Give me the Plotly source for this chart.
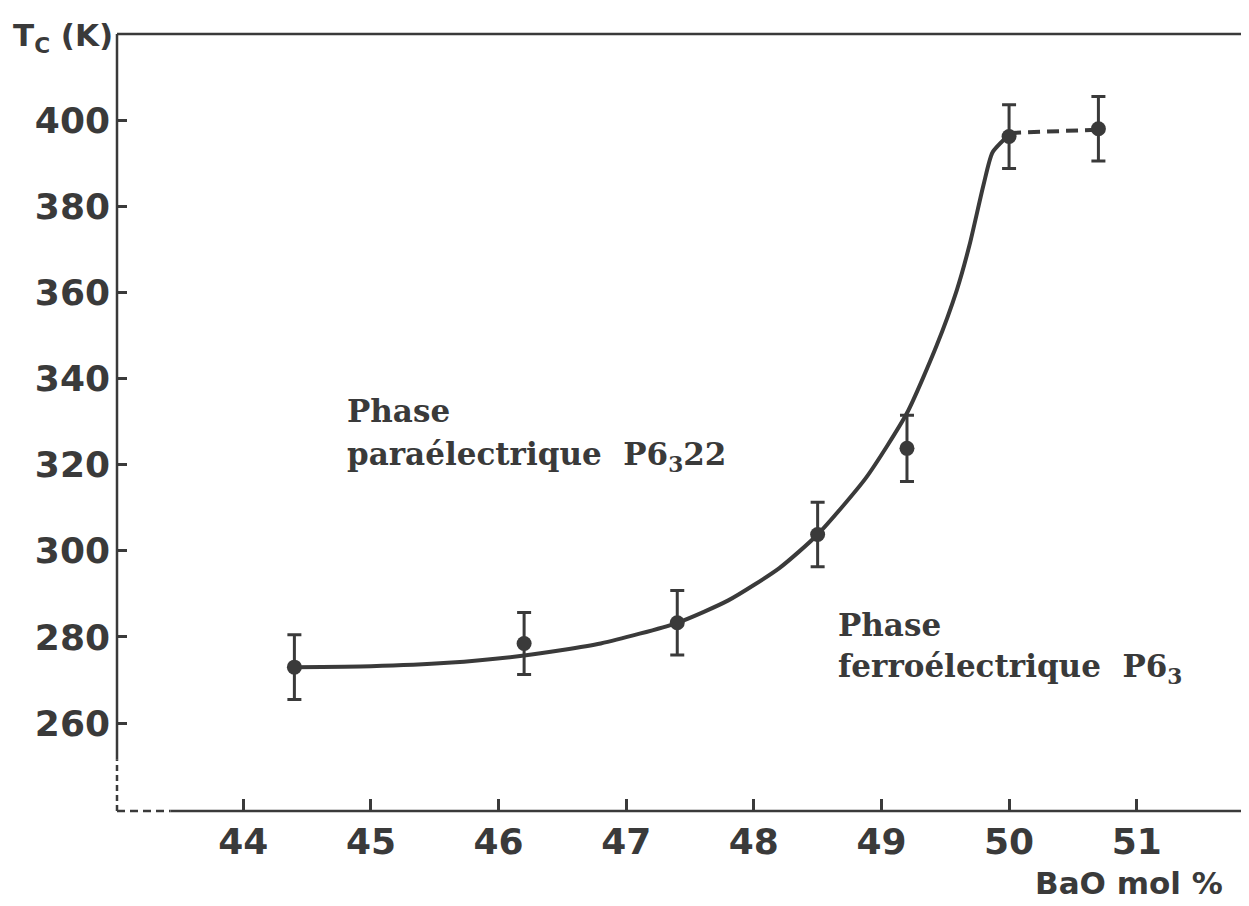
import plotly.graph_objects as go

# Measured points (BaO mol %, Tc in K) with error bars
bao = [44.4, 46.2, 47.4, 48.5, 49.2, 50.0, 50.7]
tc = [273.0, 278.5, 283.3, 303.8, 323.8, 396.2, 398.0]
err = [7.5, 7.2, 7.5, 7.5, 7.7, 7.4, 7.5]

# Hand-drawn guide curve
curve_x = [44.4, 45.0, 45.6, 46.2, 46.8, 47.4, 47.8, 48.2, 48.5, 48.88,
           49.2, 49.43, 49.59, 49.69, 49.80, 49.87, 50.0]
curve_y = [273.0, 273.2, 274.0, 275.7, 278.5, 283.3, 288.5, 296.0, 303.8, 317.0,
           332.0, 347.5, 360.5, 371.0, 385.0, 392.5, 396.6]

# Dashed plateau
dash_x = [50.0, 50.7]
dash_y = [397.0, 397.8]

x_ticks = [44, 45, 46, 47, 48, 49, 50, 51]
y_ticks = [260, 280, 300, 320, 340, 360, 380, 400]

ink = '#3a3a3a'

fig = go.Figure()

fig.add_trace(go.Scatter(x=curve_x, y=curve_y, mode='lines',
                         line=dict(color=ink, width=4, shape='spline', smoothing=0.6),
                         hoverinfo='skip'))
fig.add_trace(go.Scatter(x=dash_x, y=dash_y, mode='lines',
                         line=dict(color=ink, width=4, dash='12px,7px'),
                         hoverinfo='skip'))
fig.add_trace(go.Scatter(x=bao, y=tc, mode='markers',
                         marker=dict(color=ink, size=15),
                         error_y=dict(type='data', array=err, color=ink,
                                      thickness=3, width=7)))

# frame: top line, left axis (solid then dashed near origin), bottom axis
fig.add_shape(type='line', xref='x domain', yref='y domain', x0=0, x1=1, y0=1, y1=1,
              line=dict(color=ink, width=2.5))
fig.add_shape(type='line', xref='x domain', yref='y', x0=0, x1=0, y0=251.5, y1=420,
              line=dict(color=ink, width=2.5))
fig.add_shape(type='line', xref='x domain', yref='y', x0=0, x1=0, y0=239.6, y1=251.5,
              line=dict(color=ink, width=2.5, dash='6px,4px'))
fig.add_shape(type='line', xref='x', yref='y domain', x0=43.43, x1=51.88, y0=0, y1=0,
              line=dict(color=ink, width=2.5))
fig.add_shape(type='line', xref='x', yref='y domain', x0=43.01, x1=43.43, y0=0, y1=0,
              line=dict(color=ink, width=2.5, dash='8px,5px'))

tick_font = dict(family='DejaVu Sans', size=36, color=ink, weight='bold')
phase_font = dict(family='DejaVu Serif', size=31, color=ink, weight='bold')

fig.add_annotation(x=44.80, y=332.5, text='Phase', showarrow=False,
                   xanchor='left', yanchor='middle', font=phase_font)
fig.add_annotation(x=44.80, y=322.0, text='paraélectrique  P6<sub>3</sub>22', showarrow=False,
                   xanchor='left', yanchor='middle', font=phase_font)
fig.add_annotation(x=48.64, y=282.8, text='Phase', showarrow=False,
                   xanchor='left', yanchor='middle', font=phase_font)
fig.add_annotation(x=48.64, y=272.8, text='ferroélectrique  P6<sub>3</sub>', showarrow=False,
                   xanchor='left', yanchor='middle', font=phase_font)

# axis labels
fig.add_annotation(xref='paper', yref='paper', x=-0.094, y=0.995, text='T<sub>C</sub> (K)',
                   showarrow=False, xanchor='left', yanchor='middle',
                   font=dict(family='DejaVu Sans', size=31, color=ink, weight='bold'))
fig.add_annotation(xref='paper', yref='paper', x=0.979, y=-0.093, text='BaO mol %',
                   showarrow=False, xanchor='right', yanchor='middle',
                   font=dict(family='DejaVu Sans', size=31, color=ink, weight='bold'))

# page body has an 8px margin, so the figure is sized to fit the window
fig.update_layout(
    width=1241, height=898,
    margin=dict(l=109, r=0, t=26, b=95),
    plot_bgcolor='white', paper_bgcolor='white',
    showlegend=False,
    xaxis=dict(range=[43.01, 51.88], tickvals=x_ticks, ticks='inside', ticklen=12,
               tickwidth=2.5, tickcolor=ink, showgrid=False, zeroline=False,
               showline=False, tickfont=tick_font, ticklabelstandoff=6),
    yaxis=dict(range=[239.6, 420], tickvals=y_ticks, ticks='inside', ticklen=10,
               tickwidth=2.5, tickcolor=ink, showgrid=False, zeroline=False,
               showline=False, tickfont=tick_font, ticklabelstandoff=6),
)

fig.write_html("out.html")
